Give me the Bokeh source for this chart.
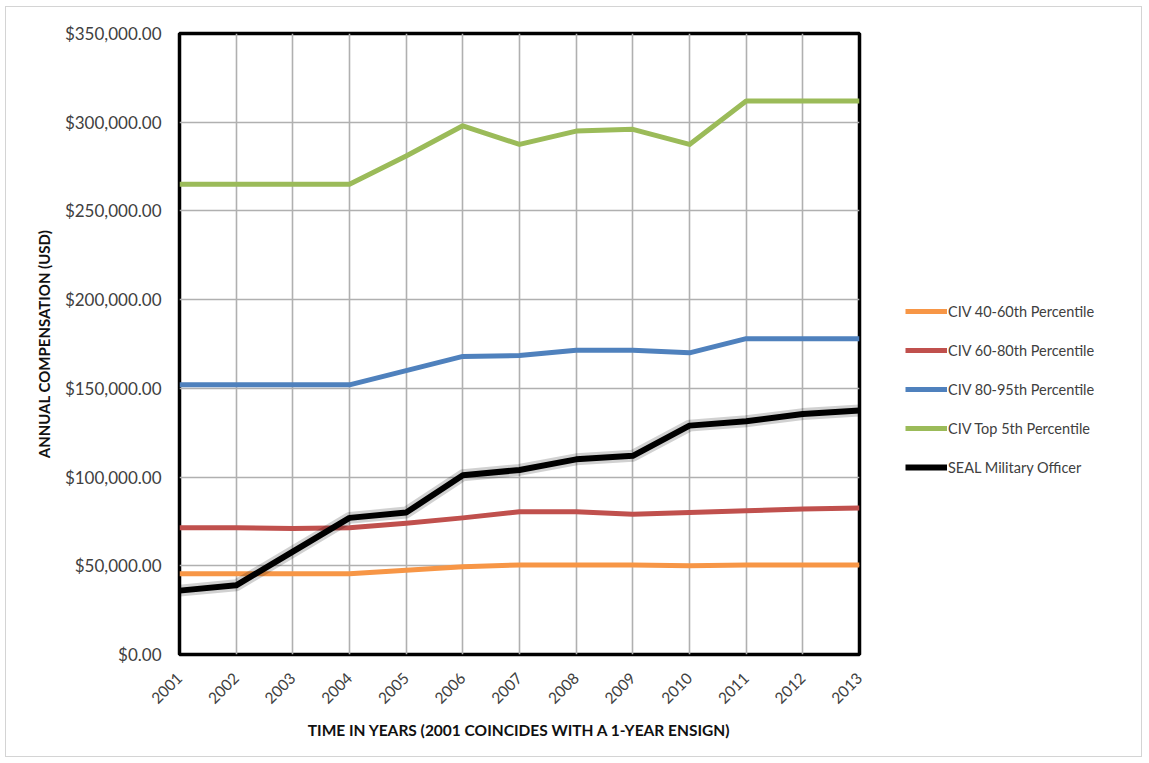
from math import pi

from bokeh.embed import file_html
from bokeh.models import FixedTicker, Legend, LegendItem, NumeralTickFormatter
from bokeh.plotting import figure
from bokeh.resources import INLINE

# Annual compensation (USD) by year
years = [2001, 2002, 2003, 2004, 2005, 2006, 2007, 2008, 2009, 2010, 2011, 2012, 2013]
civ_40_60 = [45500, 45500, 45500, 45500, 47500, 49500, 50500, 50500, 50500, 50000, 50500, 50500, 50500]
civ_60_80 = [71500, 71500, 71000, 71500, 74000, 77000, 80500, 80500, 79000, 80000, 81000, 82000, 82500]
civ_80_95 = [152000, 152000, 152000, 152000, 160000, 168000, 168500, 171500, 171500, 170000, 178000, 178000, 178000]
civ_top_5 = [265000, 265000, 265000, 265000, 281000, 298000, 287500, 295000, 296000, 287500, 312000, 312000, 312000]
seal_officer = [36000, 39000, 58000, 77000, 80000, 101000, 104000, 110000, 112000, 129000, 131500, 135500, 137500]

series_names = [
    "CIV 40-60th Percentile",
    "CIV 60-80th Percentile",
    "CIV 80-95th Percentile",
    "CIV Top 5th Percentile",
    "SEAL Military Officer",
]
series_values = [civ_40_60, civ_60_80, civ_80_95, civ_top_5, seal_officer]
series_colors = ["#F79646", "#C0504D", "#4F81BD", "#9BBB59", "#000000"]
series_widths = [5, 5, 5, 5, 6]

y_ticks = [0, 50000, 100000, 150000, 200000, 250000, 300000, 350000]

FONT = "Lato"

p = figure(
    frame_width=680,
    frame_height=621,
    x_range=(2001, 2013),
    y_range=(0, 350000),
    output_backend="svg",
    toolbar_location=None,
    min_border_left=173,
    min_border_right=0,
    min_border_top=26,
    min_border_bottom=104,
    background_fill_color="white",
    border_fill_color="white",
)
# light frame around the whole chart; the right side panel is cut to the page width
p.styles = {
    "margin": "6px 0 0 5px",
    "border": "1px solid #d4d4d4",
    "width": "1137px",
    "height": "751px",
    "overflow": "hidden",
}

p.outline_line_color = "black"
p.outline_line_width = 3.5

p.xgrid.grid_line_color = "#b0b0b0"
p.ygrid.grid_line_color = "#b0b0b0"
p.xgrid.grid_line_width = 1.6
p.ygrid.grid_line_width = 1.6

p.xaxis.ticker = FixedTicker(ticks=years)
p.yaxis.ticker = FixedTicker(ticks=y_ticks)
p.yaxis.formatter = NumeralTickFormatter(format="$0,0.00")

for ax in (p.xaxis, p.yaxis):
    ax.axis_line_color = None
    ax.major_tick_line_color = None
    ax.minor_tick_line_color = None
    ax.major_tick_out = 0
    ax.major_tick_in = 0
    ax.major_label_text_font = FONT
    ax.major_label_text_color = "#404040"
    ax.axis_label_text_font = FONT
    ax.axis_label_text_font_style = "bold"
    ax.axis_label_text_color = "#111111"

p.yaxis.major_label_text_font_size = "17px"
p.yaxis.major_label_standoff = 18
p.yaxis.axis_label = "ANNUAL COMPENSATION (USD)"
p.yaxis.axis_label_text_font_size = "15px"
p.yaxis.axis_label_standoff = 9

p.xaxis.major_label_text_font_size = "15.5px"
p.xaxis.major_label_orientation = pi / 4
p.xaxis.major_label_standoff = 21
p.xaxis.axis_label = "TIME IN YEARS (2001 COINCIDES WITH A 1-YEAR ENSIGN)"
p.xaxis.axis_label_text_font_size = "15.5px"
p.xaxis.axis_label_standoff = 9

items = []
for name, vals, color, width in zip(series_names, series_values, series_colors, series_widths):
    if color == "#000000":
        # soft halo under the officer line
        p.line(years, vals, line_color="#000000", line_width=12, line_alpha=0.18, line_join="round")
    r = p.line(years, vals, line_color=color, line_width=width, line_join="round")
    items.append(LegendItem(label=name, renderers=[r]))

legend = Legend(
    items=items,
    location=(46, 177),
    glyph_width=42,
    glyph_height=20,
    label_height=20,
    spacing=19,
    padding=0,
    margin=0,
    label_standoff=1,
    label_text_font=FONT,
    label_text_font_size="14.5px",
    label_text_color="#404040",
    border_line_color=None,
    background_fill_alpha=0,
)
p.add_layout(legend, "right")

with open("out.html", "w") as f:
    f.write(file_html(p, INLINE))
